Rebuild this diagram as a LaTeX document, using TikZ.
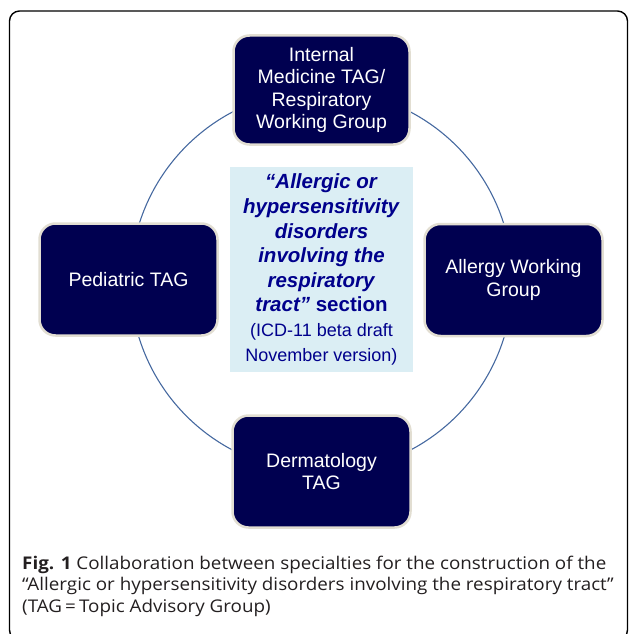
\documentclass[tikz,border=0pt]{standalone}
\usepackage{fontspec}
\setmainfont{Liberation Sans}
\newfontfamily\capfont{Open Sans}
\definecolor{navybox}{RGB}{0,0,80}
\definecolor{boxrim}{RGB}{226,222,210}
\definecolor{centerfill}{RGB}{219,238,244}
\definecolor{centertext}{RGB}{0,0,140}
\definecolor{ringcol}{RGB}{70,105,160}
\definecolor{captext}{RGB}{35,31,32}
\newcommand{\smallsec}{\fontsize{18}{20.8}\selectfont}
\newcommand{\capstretch}[1]{\scalebox{1.075}[1]{#1}}
\tikzset{
  groupbox/.style={fill=navybox, draw=boxrim, line width=2.5pt, rounded corners=16pt,
    minimum width=178pt, minimum height=112pt, text=white, align=center,
    font=\fontsize{19.5}{22.5}\selectfont, inner sep=0pt},
  sectionbox/.style={fill=centerfill, draw=none, minimum width=183pt, minimum height=205pt,
    text=centertext, align=center, font=\fontsize{20.5}{24.6}\selectfont, inner sep=0pt},
  ring/.style={draw=ringcol, line width=1.1pt},
  frame/.style={draw=black, line width=1.4pt, rounded corners=10pt},
  capline/.style={anchor=base west, inner sep=0pt, text=captext, font=\capfont\fontsize{17.5}{22}\selectfont}
}
\begin{document}
\begin{tikzpicture}[x=1pt,y=-1pt]
\useasboundingbox (0,0) rectangle (629,634);
\draw[frame] (9.5,11) rectangle (627.5,640);
\coordinate (ringc) at (321.5,281);
\draw[ring] (ringc) circle[radius=191];
\node[groupbox, minimum width=176pt, minimum height=109pt] (im) at (321.5,90) {Internal\\Medicine TAG/\\Respiratory\\Working Group};
\node[groupbox] (ped) at (128.5,279.5) {Pediatric TAG};
\node[groupbox] (all) at (513.5,280) {Allergy Working\\Group};
\node[groupbox] (der) at (321.5,471.5) {Dermatology\\TAG};
\node[sectionbox] (sec) at (321.5,269.5) {\textbf{\textit{“Allergic or}}\\\textbf{\textit{hypersensitivity}}\\\textbf{\textit{disorders}}\\\textbf{\textit{involving the}}\\\textbf{\textit{respiratory}}\\\textbf{\textit{tract”}} \textbf{section}\\\smallsec (ICD-11 beta draft\\\smallsec November version)};
\node[capline] (cap1) at (22,569) {\capstretch{\textbf{Fig. 1} Collaboration between specialties for the construction of the}};
\node[capline] (cap2) at (22,590.5) {\capstretch{“Allergic or hypersensitivity disorders involving the respiratory tract”}};
\node[capline] (cap3) at (22,612.5) {\capstretch{(TAG\,=\,Topic Advisory Group)}};
\end{tikzpicture}
\end{document}
